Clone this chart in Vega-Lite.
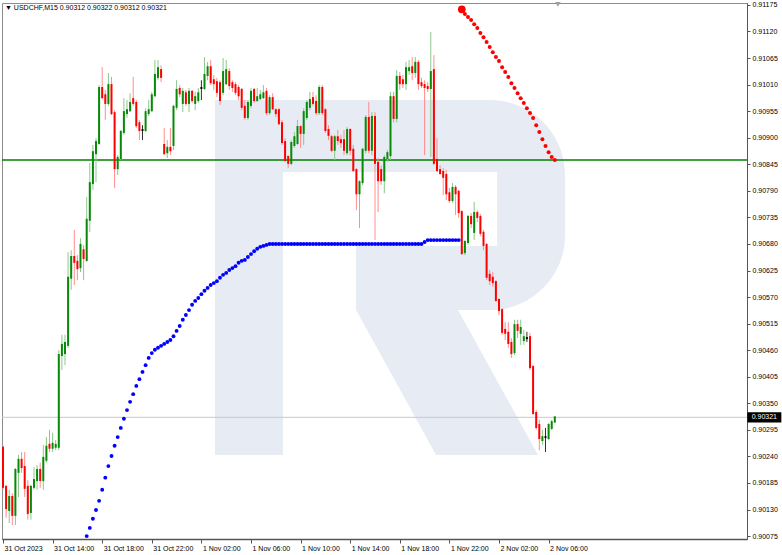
{
"$schema": "https://vega.github.io/schema/vega-lite/v6.json",
"width": 745, "height": 536,
"autosize": {"type": "none"},
"padding": {"left": 2, "top": 3, "right": 35, "bottom": 16},
"background": "white",
"config": {"view": {"stroke": "#8c8c8c", "strokeWidth": 1}, "font": "Liberation Sans",
"axis": {"labelOverlap": false, "labelFlush": false, "labelBound": false, "grid": false, "labelFontSize": 7, "labelFont": "Liberation Sans", "labelColor": "#000000", "tickColor": "#555555", "domainColor": "#555555", "title": null, "tickCount": 40}},
"title": {"text": "\u25bc USDCHF,M15  0.90312 0.90322 0.90312 0.90321", "anchor": "start", "frame": "group", "orient": "top", "offset": -10, "baseline": "top", "fontSize": 7, "fontWeight": "normal", "font": "Liberation Sans", "color": "#000000", "dx": 3},
"datasets": {
"one": [{}],
"candles": [
{"i":0,"o":0.90258,"h":0.90264,"l":0.90171,"c":0.90177},
{"i":1,"o":0.90177,"h":0.90181,"l":0.90113,"c":0.90133},
{"i":2,"o":0.90129,"h":0.90171,"l":0.90102,"c":0.90156},
{"i":3,"o":0.90156,"h":0.90164,"l":0.90098,"c":0.90119},
{"i":4,"o":0.90119,"h":0.90216,"l":0.90098,"c":0.90212},
{"i":5,"o":0.90208,"h":0.90243,"l":0.90156,"c":0.90233},
{"i":6,"o":0.90233,"h":0.90249,"l":0.90206,"c":0.90218},
{"i":7,"o":0.90218,"h":0.90249,"l":0.90156,"c":0.90175},
{"i":8,"o":0.90177,"h":0.90191,"l":0.90109,"c":0.90123},
{"i":9,"o":0.90125,"h":0.90181,"l":0.90109,"c":0.90177},
{"i":10,"o":0.90177,"h":0.90218,"l":0.90171,"c":0.90191},
{"i":11,"o":0.90191,"h":0.90222,"l":0.90171,"c":0.90212},
{"i":12,"o":0.90212,"h":0.90227,"l":0.90175,"c":0.90191},
{"i":13,"o":0.90191,"h":0.90264,"l":0.90171,"c":0.90237},
{"i":14,"o":0.90233,"h":0.90280,"l":0.90227,"c":0.90260},
{"i":15,"o":0.90264,"h":0.90295,"l":0.90249,"c":0.90258},
{"i":16,"o":0.90258,"h":0.90289,"l":0.90249,"c":0.90266},
{"i":17,"o":0.90260,"h":0.90274,"l":0.90253,"c":0.90264},
{"i":18,"o":0.90260,"h":0.90460,"l":0.90253,"c":0.90450},
{"i":19,"o":0.90450,"h":0.90492,"l":0.90419,"c":0.90471},
{"i":20,"o":0.90454,"h":0.90492,"l":0.90429,"c":0.90475},
{"i":21,"o":0.90471,"h":0.90663,"l":0.90465,"c":0.90610},
{"i":22,"o":0.90610,"h":0.90667,"l":0.90585,"c":0.90653},
{"i":23,"o":0.90653,"h":0.90709,"l":0.90595,"c":0.90643},
{"i":24,"o":0.90643,"h":0.90657,"l":0.90605,"c":0.90630},
{"i":25,"o":0.90632,"h":0.90692,"l":0.90622,"c":0.90678},
{"i":26,"o":0.90667,"h":0.90678,"l":0.90605,"c":0.90651},
{"i":27,"o":0.90647,"h":0.90777,"l":0.90643,"c":0.90730},
{"i":28,"o":0.90730,"h":0.90848,"l":0.90705,"c":0.90806},
{"i":29,"o":0.90806,"h":0.90885,"l":0.90792,"c":0.90870},
{"i":30,"o":0.90868,"h":0.90899,"l":0.90808,"c":0.90891},
{"i":31,"o":0.90889,"h":0.91009,"l":0.90885,"c":0.91003},
{"i":32,"o":0.91003,"h":0.91046,"l":0.90980,"c":0.90984},
{"i":33,"o":0.90988,"h":0.90999,"l":0.90937,"c":0.90972},
{"i":34,"o":0.90972,"h":0.91034,"l":0.90966,"c":0.91009},
{"i":35,"o":0.91009,"h":0.91026,"l":0.90947,"c":0.90951},
{"i":36,"o":0.90951,"h":0.90957,"l":0.90796,"c":0.90837},
{"i":37,"o":0.90837,"h":0.90864,"l":0.90823,"c":0.90858},
{"i":38,"o":0.90858,"h":0.90916,"l":0.90854,"c":0.90912},
{"i":39,"o":0.90912,"h":0.90982,"l":0.90906,"c":0.90953},
{"i":40,"o":0.90951,"h":0.90978,"l":0.90941,"c":0.90957},
{"i":41,"o":0.90957,"h":0.90992,"l":0.90953,"c":0.90972},
{"i":42,"o":0.90980,"h":0.91026,"l":0.90966,"c":0.90972},
{"i":43,"o":0.90972,"h":0.90978,"l":0.90920,"c":0.90926},
{"i":44,"o":0.90930,"h":0.90937,"l":0.90895,"c":0.90916},
{"i":45,"o":0.90916,"h":0.90926,"l":0.90895,"c":0.90916},
{"i":46,"o":0.90916,"h":0.90961,"l":0.90912,"c":0.90953},
{"i":47,"o":0.90951,"h":0.90978,"l":0.90945,"c":0.90957},
{"i":48,"o":0.90957,"h":0.90995,"l":0.90953,"c":0.90988},
{"i":49,"o":0.90988,"h":0.91061,"l":0.90984,"c":0.91030},
{"i":50,"o":0.91026,"h":0.91061,"l":0.91019,"c":0.91044},
{"i":51,"o":0.91040,"h":0.91050,"l":0.91015,"c":0.91026},
{"i":52,"o":0.90885,"h":0.90920,"l":0.90864,"c":0.90868},
{"i":53,"o":0.90870,"h":0.90895,"l":0.90858,"c":0.90879},
{"i":54,"o":0.90879,"h":0.90920,"l":0.90864,"c":0.90874},
{"i":55,"o":0.90885,"h":0.90968,"l":0.90874,"c":0.90964},
{"i":56,"o":0.90964,"h":0.91019,"l":0.90957,"c":0.90999},
{"i":57,"o":0.91001,"h":0.91009,"l":0.90984,"c":0.90992},
{"i":58,"o":0.90972,"h":0.91003,"l":0.90953,"c":0.90995},
{"i":59,"o":0.90992,"h":0.90999,"l":0.90966,"c":0.90972},
{"i":60,"o":0.90972,"h":0.91003,"l":0.90953,"c":0.90995},
{"i":61,"o":0.90995,"h":0.90999,"l":0.90972,"c":0.90978},
{"i":62,"o":0.90972,"h":0.90995,"l":0.90957,"c":0.90984},
{"i":63,"o":0.90978,"h":0.91003,"l":0.90972,"c":0.90992},
{"i":64,"o":0.91003,"h":0.91019,"l":0.90978,"c":0.91003},
{"i":65,"o":0.91003,"h":0.91067,"l":0.90999,"c":0.91030},
{"i":66,"o":0.91030,"h":0.91057,"l":0.91019,"c":0.91046},
{"i":67,"o":0.91046,"h":0.91061,"l":0.91009,"c":0.91015},
{"i":68,"o":0.91019,"h":0.91030,"l":0.90999,"c":0.91013},
{"i":69,"o":0.91015,"h":0.91024,"l":0.90984,"c":0.90995},
{"i":70,"o":0.91013,"h":0.91019,"l":0.90968,"c":0.90978},
{"i":71,"o":0.90995,"h":0.91065,"l":0.90988,"c":0.91036},
{"i":72,"o":0.91013,"h":0.91061,"l":0.91009,"c":0.91040},
{"i":73,"o":0.91036,"h":0.91044,"l":0.90999,"c":0.91009},
{"i":74,"o":0.91013,"h":0.91019,"l":0.90995,"c":0.91005},
{"i":75,"o":0.91009,"h":0.91015,"l":0.90988,"c":0.90995},
{"i":76,"o":0.91003,"h":0.91009,"l":0.90978,"c":0.90988},
{"i":77,"o":0.90999,"h":0.91003,"l":0.90957,"c":0.90964},
{"i":78,"o":0.90964,"h":0.90978,"l":0.90937,"c":0.90943},
{"i":79,"o":0.90943,"h":0.90978,"l":0.90937,"c":0.90972},
{"i":80,"o":0.90968,"h":0.91003,"l":0.90961,"c":0.90995},
{"i":81,"o":0.90999,"h":0.91003,"l":0.90972,"c":0.90978},
{"i":82,"o":0.90978,"h":0.91003,"l":0.90974,"c":0.90984},
{"i":83,"o":0.90982,"h":0.90999,"l":0.90978,"c":0.90988},
{"i":84,"o":0.90984,"h":0.91009,"l":0.90980,"c":0.90992},
{"i":85,"o":0.90995,"h":0.91003,"l":0.90947,"c":0.90953},
{"i":86,"o":0.90953,"h":0.90988,"l":0.90947,"c":0.90982},
{"i":87,"o":0.90982,"h":0.90992,"l":0.90957,"c":0.90961},
{"i":88,"o":0.90957,"h":0.90961,"l":0.90943,"c":0.90951},
{"i":89,"o":0.90957,"h":0.90961,"l":0.90926,"c":0.90930},
{"i":90,"o":0.90930,"h":0.90937,"l":0.90885,"c":0.90891},
{"i":91,"o":0.90891,"h":0.90899,"l":0.90850,"c":0.90854},
{"i":92,"o":0.90860,"h":0.90864,"l":0.90837,"c":0.90848},
{"i":93,"o":0.90848,"h":0.90895,"l":0.90843,"c":0.90889},
{"i":94,"o":0.90885,"h":0.90912,"l":0.90879,"c":0.90901},
{"i":95,"o":0.90889,"h":0.90937,"l":0.90885,"c":0.90922},
{"i":96,"o":0.90922,"h":0.90926,"l":0.90879,"c":0.90910},
{"i":97,"o":0.90910,"h":0.90961,"l":0.90885,"c":0.90953},
{"i":98,"o":0.90943,"h":0.90978,"l":0.90937,"c":0.90972},
{"i":99,"o":0.90964,"h":0.90995,"l":0.90957,"c":0.90978},
{"i":100,"o":0.90982,"h":0.90995,"l":0.90966,"c":0.90972},
{"i":101,"o":0.90974,"h":0.90988,"l":0.90947,"c":0.90953},
{"i":102,"o":0.90953,"h":0.91009,"l":0.90947,"c":0.91003},
{"i":103,"o":0.91003,"h":0.91009,"l":0.90947,"c":0.90953},
{"i":104,"o":0.90957,"h":0.90961,"l":0.90910,"c":0.90916},
{"i":105,"o":0.90916,"h":0.90926,"l":0.90895,"c":0.90906},
{"i":106,"o":0.90901,"h":0.90906,"l":0.90870,"c":0.90875},
{"i":107,"o":0.90875,"h":0.90906,"l":0.90854,"c":0.90901},
{"i":108,"o":0.90901,"h":0.90916,"l":0.90885,"c":0.90895},
{"i":109,"o":0.90895,"h":0.90906,"l":0.90879,"c":0.90891},
{"i":110,"o":0.90895,"h":0.90916,"l":0.90864,"c":0.90875},
{"i":111,"o":0.90870,"h":0.90922,"l":0.90864,"c":0.90916},
{"i":112,"o":0.90916,"h":0.90920,"l":0.90864,"c":0.90875},
{"i":113,"o":0.90875,"h":0.90885,"l":0.90829,"c":0.90833},
{"i":114,"o":0.90833,"h":0.90837,"l":0.90750,"c":0.90785},
{"i":115,"o":0.90785,"h":0.90812,"l":0.90713,"c":0.90808},
{"i":116,"o":0.90808,"h":0.90879,"l":0.90802,"c":0.90875},
{"i":117,"o":0.90875,"h":0.90947,"l":0.90868,"c":0.90941},
{"i":118,"o":0.90941,"h":0.90974,"l":0.90868,"c":0.90875},
{"i":119,"o":0.90875,"h":0.90953,"l":0.90864,"c":0.90943},
{"i":120,"o":0.90943,"h":0.90953,"l":0.90688,"c":0.90848},
{"i":121,"o":0.90848,"h":0.90858,"l":0.90746,"c":0.90812},
{"i":122,"o":0.90833,"h":0.90843,"l":0.90802,"c":0.90812},
{"i":123,"o":0.90812,"h":0.90864,"l":0.90785,"c":0.90858},
{"i":124,"o":0.90858,"h":0.90875,"l":0.90850,"c":0.90868},
{"i":125,"o":0.90864,"h":0.90995,"l":0.90854,"c":0.90984},
{"i":126,"o":0.90984,"h":0.90995,"l":0.90932,"c":0.90941},
{"i":127,"o":0.90941,"h":0.91040,"l":0.90932,"c":0.91026},
{"i":128,"o":0.91026,"h":0.91036,"l":0.90999,"c":0.91013},
{"i":129,"o":0.91019,"h":0.91030,"l":0.91003,"c":0.91013},
{"i":130,"o":0.91013,"h":0.91057,"l":0.90999,"c":0.91044},
{"i":131,"o":0.91040,"h":0.91061,"l":0.91030,"c":0.91044},
{"i":132,"o":0.91046,"h":0.91067,"l":0.91019,"c":0.91036},
{"i":133,"o":0.91036,"h":0.91067,"l":0.91024,"c":0.91055},
{"i":134,"o":0.91055,"h":0.91061,"l":0.90999,"c":0.91013},
{"i":135,"o":0.91013,"h":0.91024,"l":0.91003,"c":0.91009},
{"i":136,"o":0.91009,"h":0.91019,"l":0.90864,"c":0.91005},
{"i":137,"o":0.91005,"h":0.91015,"l":0.90995,"c":0.91003},
{"i":138,"o":0.91003,"h":0.91119,"l":0.90860,"c":0.91036},
{"i":139,"o":0.91040,"h":0.91071,"l":0.90843,"c":0.90848},
{"i":140,"o":0.90854,"h":0.90899,"l":0.90829,"c":0.90833},
{"i":141,"o":0.90833,"h":0.90843,"l":0.90823,"c":0.90827},
{"i":142,"o":0.90829,"h":0.90837,"l":0.90781,"c":0.90819},
{"i":143,"o":0.90823,"h":0.90833,"l":0.90771,"c":0.90785},
{"i":144,"o":0.90785,"h":0.90796,"l":0.90765,"c":0.90771},
{"i":145,"o":0.90771,"h":0.90806,"l":0.90765,"c":0.90796},
{"i":146,"o":0.90796,"h":0.90802,"l":0.90740,"c":0.90785},
{"i":147,"o":0.90788,"h":0.90792,"l":0.90734,"c":0.90746},
{"i":148,"o":0.90746,"h":0.90750,"l":0.90657,"c":0.90661},
{"i":149,"o":0.90663,"h":0.90688,"l":0.90657,"c":0.90684},
{"i":150,"o":0.90684,"h":0.90740,"l":0.90678,"c":0.90736},
{"i":151,"o":0.90736,"h":0.90744,"l":0.90713,"c":0.90723},
{"i":152,"o":0.90705,"h":0.90767,"l":0.90688,"c":0.90744},
{"i":153,"o":0.90744,"h":0.90750,"l":0.90725,"c":0.90736},
{"i":154,"o":0.90736,"h":0.90742,"l":0.90696,"c":0.90703},
{"i":155,"o":0.90703,"h":0.90709,"l":0.90667,"c":0.90678},
{"i":156,"o":0.90678,"h":0.90682,"l":0.90605,"c":0.90612},
{"i":157,"o":0.90616,"h":0.90626,"l":0.90595,"c":0.90605},
{"i":158,"o":0.90610,"h":0.90622,"l":0.90591,"c":0.90601},
{"i":159,"o":0.90601,"h":0.90605,"l":0.90560,"c":0.90564},
{"i":160,"o":0.90564,"h":0.90568,"l":0.90533,"c":0.90543},
{"i":161,"o":0.90543,"h":0.90547,"l":0.90492,"c":0.90498},
{"i":162,"o":0.90502,"h":0.90518,"l":0.90481,"c":0.90496},
{"i":163,"o":0.90496,"h":0.90518,"l":0.90465,"c":0.90475},
{"i":164,"o":0.90475,"h":0.90485,"l":0.90444,"c":0.90454},
{"i":165,"o":0.90456,"h":0.90523,"l":0.90450,"c":0.90512},
{"i":166,"o":0.90512,"h":0.90523,"l":0.90485,"c":0.90502},
{"i":167,"o":0.90496,"h":0.90523,"l":0.90471,"c":0.90506},
{"i":168,"o":0.90481,"h":0.90502,"l":0.90471,"c":0.90487},
{"i":169,"o":0.90485,"h":0.90498,"l":0.90477,"c":0.90485},
{"i":170,"o":0.90487,"h":0.90496,"l":0.90419,"c":0.90425},
{"i":171,"o":0.90425,"h":0.90429,"l":0.90326,"c":0.90330},
{"i":172,"o":0.90330,"h":0.90336,"l":0.90295,"c":0.90301},
{"i":173,"o":0.90305,"h":0.90316,"l":0.90253,"c":0.90278},
{"i":174,"o":0.90274,"h":0.90295,"l":0.90264,"c":0.90280},
{"i":175,"o":0.90280,"h":0.90299,"l":0.90249,"c":0.90280},
{"i":176,"o":0.90278,"h":0.90309,"l":0.90274,"c":0.90305},
{"i":177,"o":0.90299,"h":0.90316,"l":0.90295,"c":0.90311},
{"i":178,"o":0.90312,"h":0.90322,"l":0.90312,"c":0.90321}
],
"blue": [
{"i":27,"v":0.90075},{"i":28,"v":0.90092},{"i":29,"v":0.90111},{"i":30,"v":0.90129},{"i":31,"v":0.90148},
{"i":32,"v":0.90171},{"i":33,"v":0.90196},{"i":34,"v":0.90220},{"i":35,"v":0.90241},{"i":36,"v":0.90262},
{"i":37,"v":0.90280},{"i":38,"v":0.90299},{"i":39,"v":0.90318},{"i":40,"v":0.90336},{"i":41,"v":0.90353},
{"i":42,"v":0.90369},{"i":43,"v":0.90386},{"i":44,"v":0.90400},{"i":45,"v":0.90415},{"i":46,"v":0.90429},
{"i":47,"v":0.90444},{"i":48,"v":0.90454},{"i":49,"v":0.90461},{"i":50,"v":0.90465},{"i":51,"v":0.90469},
{"i":52,"v":0.90473},{"i":53,"v":0.90477},{"i":54,"v":0.90481},{"i":55,"v":0.90489},{"i":56,"v":0.90500},
{"i":57,"v":0.90510},{"i":58,"v":0.90523},{"i":59,"v":0.90533},{"i":60,"v":0.90543},{"i":61,"v":0.90554},
{"i":62,"v":0.90562},{"i":63,"v":0.90568},{"i":64,"v":0.90576},{"i":65,"v":0.90583},{"i":66,"v":0.90589},
{"i":67,"v":0.90595},{"i":68,"v":0.90599},{"i":69,"v":0.90603},{"i":70,"v":0.90610},{"i":71,"v":0.90616},
{"i":72,"v":0.90620},{"i":73,"v":0.90626},{"i":74,"v":0.90630},{"i":75,"v":0.90634},{"i":76,"v":0.90641},
{"i":77,"v":0.90645},{"i":78,"v":0.90647},{"i":79,"v":0.90653},{"i":80,"v":0.90659},{"i":81,"v":0.90665},
{"i":82,"v":0.90670},{"i":83,"v":0.90674},{"i":84,"v":0.90676},{"i":85,"v":0.90678},{"i":86,"v":0.90680},
{"i":87,"v":0.90680},{"i":88,"v":0.90680},{"i":89,"v":0.90680},{"i":90,"v":0.90680},{"i":91,"v":0.90680},
{"i":92,"v":0.90680},{"i":93,"v":0.90680},{"i":94,"v":0.90680},{"i":95,"v":0.90680},{"i":96,"v":0.90680},
{"i":97,"v":0.90680},{"i":98,"v":0.90680},{"i":99,"v":0.90680},{"i":100,"v":0.90680},{"i":101,"v":0.90680},
{"i":102,"v":0.90680},{"i":103,"v":0.90680},{"i":104,"v":0.90680},{"i":105,"v":0.90680},{"i":106,"v":0.90680},
{"i":107,"v":0.90680},{"i":108,"v":0.90680},{"i":109,"v":0.90680},{"i":110,"v":0.90680},{"i":111,"v":0.90680},
{"i":112,"v":0.90680},{"i":113,"v":0.90680},{"i":114,"v":0.90680},{"i":115,"v":0.90680},{"i":116,"v":0.90680},
{"i":117,"v":0.90680},{"i":118,"v":0.90680},{"i":119,"v":0.90680},{"i":120,"v":0.90680},{"i":121,"v":0.90680},
{"i":122,"v":0.90680},{"i":123,"v":0.90680},{"i":124,"v":0.90680},{"i":125,"v":0.90680},{"i":126,"v":0.90680},
{"i":127,"v":0.90680},{"i":128,"v":0.90680},{"i":129,"v":0.90680},{"i":130,"v":0.90680},{"i":131,"v":0.90680},
{"i":132,"v":0.90680},{"i":133,"v":0.90680},{"i":134,"v":0.90680},{"i":135,"v":0.90680},{"i":136,"v":0.90684},
{"i":137,"v":0.90688},{"i":138,"v":0.90688},{"i":139,"v":0.90688},{"i":140,"v":0.90688},{"i":141,"v":0.90688},
{"i":142,"v":0.90688},{"i":143,"v":0.90688},{"i":144,"v":0.90688},{"i":145,"v":0.90688},{"i":146,"v":0.90688},
{"i":147,"v":0.90688}
],
"red": [
{"i":148,"v":0.91166},{"i":149,"v":0.91156},{"i":150,"v":0.91150},{"i":151,"v":0.91144},{"i":152,"v":0.91135},
{"i":153,"v":0.91127},{"i":154,"v":0.91117},{"i":155,"v":0.91108},{"i":156,"v":0.91098},{"i":157,"v":0.91088},
{"i":158,"v":0.91077},{"i":159,"v":0.91067},{"i":160,"v":0.91059},{"i":161,"v":0.91046},{"i":162,"v":0.91036},
{"i":163,"v":0.91026},{"i":164,"v":0.91013},{"i":165,"v":0.91003},{"i":166,"v":0.90992},{"i":167,"v":0.90982},
{"i":168,"v":0.90972},{"i":169,"v":0.90961},{"i":170,"v":0.90951},{"i":171,"v":0.90941},{"i":172,"v":0.90926},
{"i":173,"v":0.90912},{"i":174,"v":0.90897},{"i":175,"v":0.90883},{"i":176,"v":0.90870},{"i":177,"v":0.90860},
{"i":178,"v":0.90854}
],
"levels": [{"v":0.90854}],
"leg": [
{"i":113.9,"p":0.90543,"p2":0.90543},
{"i":139.7,"p":0.90543,"p2":0.90243},
{"i":146.8,"p":0.90543,"p2":0.90243},
{"i":172.6,"p":0.90243,"p2":0.90243}
]
},
"layer": [
{
"data": {"name": "one"},
"mark": {"type": "rect", "color": "#e6ebf4", "cornerRadiusTopRight": 75, "cornerRadiusBottomRight": 75},
"encoding": {
"x": {"datum": 68.4, "type": "quantitative", "scale": {"domain": [-0.32, 240], "nice": false, "zero": false},
"axis": {"orient": "bottom", "title": null, "values": [0,16,32,48,64,80,96,112,128,144,160,176], "tickCount": 40,
"labelExpr": "['31 Oct 2023','31 Oct 14:00','31 Oct 18:00','31 Oct 22:00','1 Nov 02:00','1 Nov 06:00','1 Nov 10:00','1 Nov 14:00','1 Nov 18:00','1 Nov 22:00','2 Nov 02:00','2 Nov 06:00'][round(datum.value/16)]",
"labelAlign": "left", "labelBaseline": "top", "labelPadding": 1, "labelOffset": 1, "labelFontSize": 7, "labelFont": "Liberation Sans", "labelColor": "#000000",
"tickSize": 4, "tickColor": "#555555", "domainColor": "#555555", "domainWidth": 1.5, "grid": false, "labelOverlap": false, "labelFlush": false, "labelBound": false}},
"x2": {"datum": 181.3},
"y": {"datum": 0.90978, "type": "quantitative", "scale": {"domain": [0.90069, 0.91179], "nice": false, "zero": false},
"axis": {"orient": "right", "title": null, "values": [0.90075,0.9013,0.90185,0.9024,0.90295,0.9035,0.90405,0.9046,0.90515,0.9057,0.90625,0.9068,0.90735,0.9079,0.90845,0.909,0.90955,0.9101,0.91065,0.9112,0.91175], "tickCount": 40,
"format": ".5f", "labelFontSize": 7, "labelFont": "Liberation Sans", "labelColor": "#000000", "labelPadding": 2, "labelBaseline": "middle",
"tickSize": 3, "tickColor": "#555555", "domainColor": "#555555", "domainWidth": 1, "grid": false, "labelOverlap": false, "labelFlush": false, "labelBound": false}},
"y2": {"datum": 0.90543}
}
},
{
"data": {"name": "one"},
"mark": {"type": "rect", "color": "#ffffff"},
"encoding": {"x": {"datum": 91.0, "type": "quantitative"}, "x2": {"datum": 159.4}, "y": {"datum": 0.90829, "type": "quantitative"}, "y2": {"datum": 0.90676}}
},
{
"data": {"name": "one"},
"mark": {"type": "rect", "color": "#ffffff"},
"encoding": {"x": {"datum": 90.0, "type": "quantitative"}, "x2": {"datum": 113.9}, "y": {"datum": 0.90829, "type": "quantitative"}, "y2": {"datum": 0.90530}}
},
{
"data": {"name": "one"},
"mark": {"type": "rect", "color": "#e6ebf4"},
"encoding": {"x": {"datum": 68.4, "type": "quantitative"}, "x2": {"datum": 90.3}, "y": {"datum": 0.90978, "type": "quantitative"}, "y2": {"datum": 0.90243}}
},
{
"data": {"name": "leg"},
"mark": {"type": "area", "color": "#e6ebf4", "opacity": 1},
"encoding": {"x": {"field": "i", "type": "quantitative", "title": null}, "y": {"field": "p", "type": "quantitative", "title": null}, "y2": {"field": "p2"}}
},
{
"data": {"name": "levels"},
"mark": {"type": "rule", "color": "#008000", "strokeWidth": 1.5},
"encoding": {"y": {"field": "v", "type": "quantitative", "title": null}}
},
{
"data": {"name": "candles"},
"transform": [{"filter": "datum.i == 178"}],
"mark": {"type": "rule", "color": "#c8c8c8", "strokeWidth": 1},
"encoding": {"y": {"field": "c", "type": "quantitative", "title": null}}
},
{
"data": {"name": "candles"},
"mark": {"type": "rule", "strokeWidth": 1},
"encoding": {
"x": {"field": "i", "type": "quantitative", "title": null},
"y": {"field": "h", "type": "quantitative", "title": null},
"y2": {"field": "l"},
"color": {"condition": [{"test": "datum.c > datum.o", "value": "#8cc88c"}, {"test": "datum.c < datum.o", "value": "#ff8c8c"}], "value": "#303030"}
}
},
{
"data": {"name": "candles"},
"mark": {"type": "rule", "strokeWidth": 2, "strokeCap": "square"},
"encoding": {
"x": {"field": "i", "type": "quantitative", "title": null},
"y": {"field": "o", "type": "quantitative", "title": null},
"y2": {"field": "c"},
"color": {"condition": [{"test": "datum.c > datum.o", "value": "#078a07"}, {"test": "datum.c < datum.o", "value": "#ff0000"}], "value": "#000000"}
}
},
{
"data": {"name": "blue"},
"mark": {"type": "point", "filled": true, "color": "#0000ff", "opacity": 1, "size": 15, "clip": true},
"encoding": {"x": {"field": "i", "type": "quantitative", "title": null}, "y": {"field": "v", "type": "quantitative", "title": null}}
},
{
"data": {"name": "red"},
"mark": {"type": "point", "filled": true, "color": "#ff0000", "opacity": 1, "clip": false},
"encoding": {"x": {"field": "i", "type": "quantitative", "title": null}, "y": {"field": "v", "type": "quantitative", "title": null},
"size": {"condition": {"test": "datum.i == 148", "value": 60}, "value": 16}}
},
{
"data": {"name": "candles"},
"transform": [{"filter": "datum.i == 178"}],
"mark": {"type": "point", "filled": true, "color": "#000000", "opacity": 1, "shape": "M-1,-0.3H1V0.3H-1Z", "size": 1156, "clip": false},
"encoding": {"x": {"datum": 245.6, "type": "quantitative"}, "y": {"field": "c", "type": "quantitative", "title": null}}
},
{
"data": {"name": "candles"},
"transform": [{"filter": "datum.i == 178"}],
"mark": {"type": "text", "color": "#ffffff", "fontSize": 7, "font": "Liberation Sans", "align": "center", "baseline": "middle", "clip": false},
"encoding": {"x": {"datum": 245.6, "type": "quantitative"}, "y": {"field": "c", "type": "quantitative", "title": null}, "text": {"field": "c", "type": "quantitative", "format": ".5f"}}
},
{
"data": {"name": "one"},
"mark": {"type": "point", "shape": "triangle-down", "filled": true, "color": "#a0a0a0", "opacity": 1, "size": 30, "clip": false},
"encoding": {"x": {"datum": 179, "type": "quantitative"}, "y": {"datum": 0.91176, "type": "quantitative"}}
}
]
}
